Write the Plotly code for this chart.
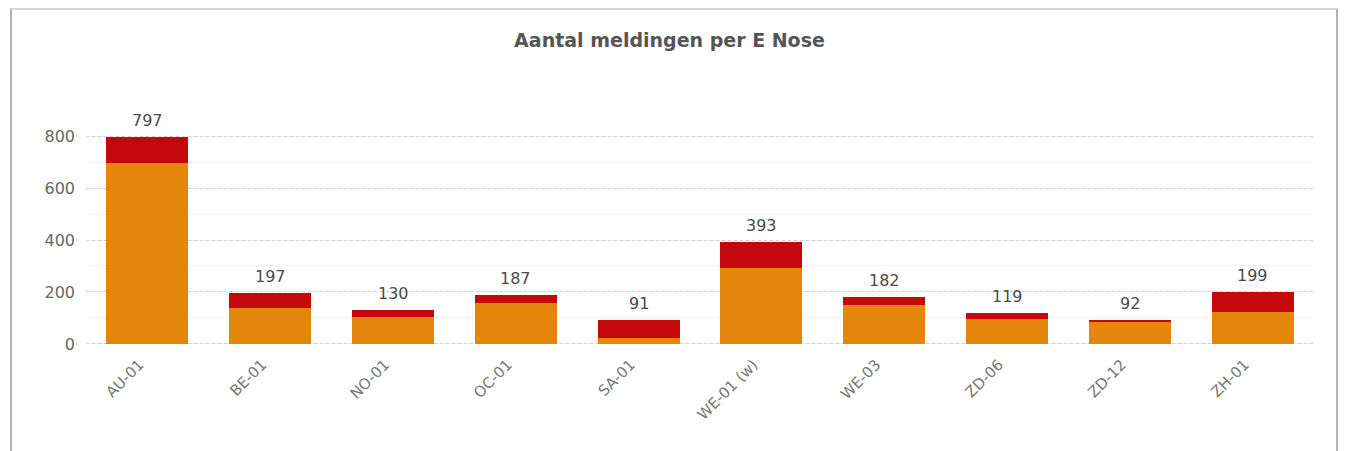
import plotly.graph_objects as go

categories = ["AU-01", "BE-01", "NO-01", "OC-01", "SA-01", "WE-01 (w)", "WE-03", "ZD-06", "ZD-12", "ZH-01"]
orange_vals = [695, 137, 103, 159, 22, 291, 150, 96, 88, 124]
red_vals = [102, 60, 27, 28, 69, 102, 32, 23, 4, 75]
totals = [797, 197, 130, 187, 91, 393, 182, 119, 92, 199]
y_ticks = [0, 200, 400, 600, 800]

OFF = 8  # page body margin in the browser
W, H = 1334, 451 - OFF
# plot area in screen pixels
SX0, SX1, SY0, SY1 = 86, 1314, 135, 345
L, R = SX0 - OFF, W - (SX1 - OFF)
T, B = SY0 - OFF, H - (SY1 - OFF)
pw, ph = W - L - R, H - T - B

def px_x(p):
    return (p - OFF - L) / pw

def px_y(p):
    return (H - B - (p - OFF)) / ph

fig = go.Figure()
fig.add_trace(go.Bar(x=categories, y=orange_vals, marker=dict(color="#E3860B", line=dict(width=0)),
                     hoverinfo="skip", showlegend=False))
fig.add_trace(go.Bar(x=categories, y=red_vals, marker=dict(color="#C4080B", line=dict(width=0)),
                     hoverinfo="skip", showlegend=False))

annotations = [
    dict(x=c, y=t, xref="x", yref="y", text=str(t), showarrow=False, yanchor="bottom",
         yshift=5, font=dict(family="DejaVu Sans", size=16, color="#4a4a4a"))
    for c, t in zip(categories, totals)
]

fig.update_layout(
    width=W, height=H,
    margin=dict(l=L, r=R, t=T, b=B),
    barmode="stack", bargap=0.333,
    paper_bgcolor="white", plot_bgcolor="white",
    title=dict(text="<b>Aantal meldingen per E Nose</b>", x=(669.5 - OFF) / W, xanchor="center",
               y=1 - (40 - OFF) / H, yanchor="middle",
               font=dict(family="DejaVu Sans", size=19, color="#555555")),
    font=dict(family="DejaVu Sans", color="#666666"),
    xaxis=dict(tickangle=-45, tickfont=dict(size=15, color="#777777"), showgrid=False,
               showline=False, ticks="", zeroline=False, ticklabelshift=-8, ticklabelstandoff=7),
    yaxis=dict(range=[-4, 804], tickvals=y_ticks, tickfont=dict(size=16, color="#666666"),
               showgrid=True, gridcolor="#cfcfcf", griddash="3px,3px", gridwidth=1,
               zeroline=False, showline=False, ticks="", ticklabelstandoff=10,
               minor=dict(dtick=100, showgrid=True, gridcolor="#f0f0f0", griddash="solid")),
    annotations=annotations,
    shapes=[
        dict(type="rect", xref="paper", yref="paper", x0=px_x(11), x1=px_x(1337),
             y0=px_y(480), y1=px_y(9), line=dict(color="#d4d4d4", width=2), layer="below"),
        dict(type="line", xref="paper", yref="paper", x0=px_x(11), x1=px_x(11),
             y0=px_y(480), y1=px_y(9), line=dict(color="#b5b5b5", width=2), layer="below"),
        dict(type="line", xref="paper", yref="paper", x0=px_x(1337), x1=px_x(1337),
             y0=px_y(480), y1=px_y(9), line=dict(color="#b5b5b5", width=2), layer="below"),
    ],
)

fig.write_html("out.html")
